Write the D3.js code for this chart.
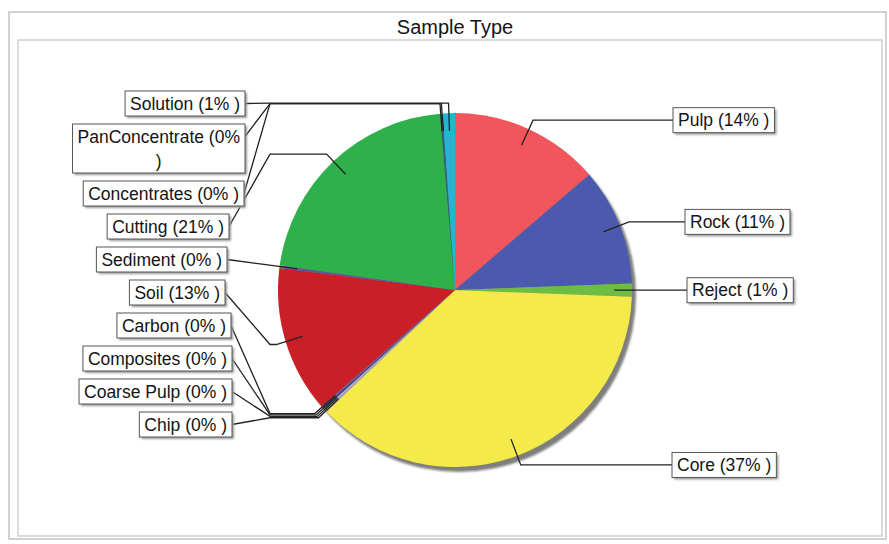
<!DOCTYPE html>
<html>
<head>
<meta charset="utf-8">
<script src="https://cdn.jsdelivr.net/npm/d3@7"></script>
<style>
  html, body { margin: 0; padding: 0; background: #fff; }
  svg { display: block; font-family: "Liberation Sans", Arial, sans-serif; }
</style>
</head>
<body>
<svg id="chart" width="889" height="544"></svg>
<script>
// Sample types, clockwise from 12 o'clock
const categories = ["Pulp", "Rock", "Reject", "Core", "Chip", "Coarse Pulp", "Composites",
  "Carbon", "Soil", "Sediment", "Cutting", "Concentrates", "PanConcentrate", "Solution"];
// Share of samples (%)
const shares = [13.7, 10.7, 1.2, 37.3, 0.16, 0.16, 0.16, 0.16, 13.4, 0.25, 21.4, 0.12, 0.12, 1.1];
const sliceColors = ["#f0565b", "#4b5aae", "#6dbd45", "#f4ea4a", "#a7a2c2", "#b9b4d2", "#3b3b80",
  "#6a5aa0", "#cb1f27", "#5a58a0", "#2eb04b", "#2f4f70", "#1d6f9a", "#22b6d0"];
const chartTitle = "Sample Type";

// Layout of the callout boxes (edge nearest the pie, in px)
const calloutEdge = {
  "Pulp": 673, "Rock": 685, "Reject": 687, "Core": 672,
  "Solution": 245, "PanConcentrate": 245, "Concentrates": 244, "Cutting": 229,
  "Sediment": 227, "Soil": 225, "Carbon": 231, "Composites": 232, "Coarse Pulp": 232, "Chip": 232
};

const cx = 455, cy = 290, R = 177;
const svg = d3.select("#chart");

// frame and title band
svg.append("rect").attr("x", 9).attr("y", 12).attr("width", 877).attr("height", 527)
  .attr("fill", "#fff").attr("stroke", "#c2c2c2").attr("stroke-width", 1.5);
svg.append("rect").attr("x", 18).attr("y", 40).attr("width", 864).attr("height", 496)
  .attr("fill", "#fff").attr("stroke", "#cfcfcf").attr("stroke-width", 1.5);
svg.append("text").attr("x", cx).attr("y", 33.5).attr("text-anchor", "middle")
  .attr("font-size", 20).attr("fill", "#141414").text(chartTitle);

const data = categories.map((name, i) => ({ name, value: shares[i], color: sliceColors[i] }));
const total = d3.sum(shares);
const pct = v => Math.round(v / total * 100);

const pie = d3.pie().value(d => d.value).sort(null);
const arcs = pie(data);
const arc = d3.arc().innerRadius(0).outerRadius(R);

const defs = svg.append("defs");
defs.append("filter").attr("id", "soft").append("feGaussianBlur").attr("stdDeviation", 1);

// drop shadow under the pie
svg.append("circle").attr("cx", cx + 4).attr("cy", cy + 5).attr("r", R)
  .attr("fill", "#7e7e7e").attr("filter", "url(#soft)");

const gPie = svg.append("g").attr("transform", `translate(${cx},${cy})`);
gPie.selectAll("path").data(arcs).join("path")
  .attr("d", arc).attr("fill", d => d.data.color);

// callout geometry
const anchorArc = d3.arc().innerRadius(R * 0.9).outerRadius(R * 0.9);
const elbowArc = d3.arc().innerRadius(R * 1.056).outerRadius(R * 1.056);
const leftColumnX = 270;

const fontSize = 17.5;
const measure = svg.append("text").attr("font-size", fontSize).attr("visibility", "hidden");
function textWidth(s) { measure.text(s); return measure.node().getComputedTextLength(); }
const maxLine = 170;
function wrap(s) {
  if (textWidth(s) <= maxLine) return [s];
  const words = s.split(" ");
  const lines = [];
  let cur = "";
  words.forEach(w => {
    const t = cur ? cur + " " + w : w;
    if (textWidth(t) > maxLine && cur) { lines.push(cur); cur = w; } else cur = t;
  });
  if (cur) lines.push(cur);
  return lines;
}

const items = arcs.map(a => {
  const mid = (a.startAngle + a.endAngle) / 2;
  const [ax, ay] = anchorArc.centroid(a);
  const [ex, ey] = elbowArc.centroid(a);
  const label = `${a.data.name} (${pct(a.data.value)}% )`;
  const lines = wrap(label);
  const w = d3.max(lines, textWidth) + 10;
  const h = 25 + (lines.length - 1) * 24;
  return { a, mid, anchor: [cx + ax, cy + ay], elbow: [cx + ex, cy + ey],
    side: mid < Math.PI ? "right" : "left", lines, w, h, name: a.data.name };
});

// left side boxes stack downward in counter-clockwise order
let y = 91;
items.filter(d => d.side === "left").sort((p, q) => q.mid - p.mid).forEach(d => {
  d.boxY = y;
  d.boxX = calloutEdge[d.name] - d.w;
  d.points = [d.anchor, d.elbow, [leftColumnX, d.elbow[1]], [calloutEdge[d.name], y + 12.5]];
  y += d.h + 8;
});
items.filter(d => d.side === "right").forEach(d => {
  d.boxY = d.elbow[1] - d.h / 2;
  d.boxX = calloutEdge[d.name];
  d.points = [d.anchor, d.elbow, [calloutEdge[d.name], d.elbow[1]]];
});

const line = d3.line();
svg.append("g").selectAll("path").data(items).join("path")
  .attr("d", d => line(d.points)).attr("fill", "none")
  .attr("stroke", "#222").attr("stroke-width", 1.3);

const gLab = svg.append("g").selectAll("g").data(items).join("g")
  .attr("transform", d => `translate(${d.boxX},${d.boxY})`);
gLab.append("rect").attr("x", 2).attr("y", 2).attr("width", d => d.w).attr("height", d => d.h)
  .attr("fill", "#9a9a9a").attr("filter", "url(#soft)");
gLab.append("rect").attr("width", d => d.w).attr("height", d => d.h)
  .attr("fill", "#fff").attr("stroke", "#555").attr("stroke-width", 1);
gLab.each(function(d) {
  const g = d3.select(this);
  d.lines.forEach((t, i) => {
    g.append("text").attr("x", d.w / 2).attr("y", 18.5 + i * 24)
      .attr("text-anchor", "middle").attr("font-size", fontSize).attr("fill", "#141414").text(t);
  });
});
measure.remove();
</script>
</body>
</html>
